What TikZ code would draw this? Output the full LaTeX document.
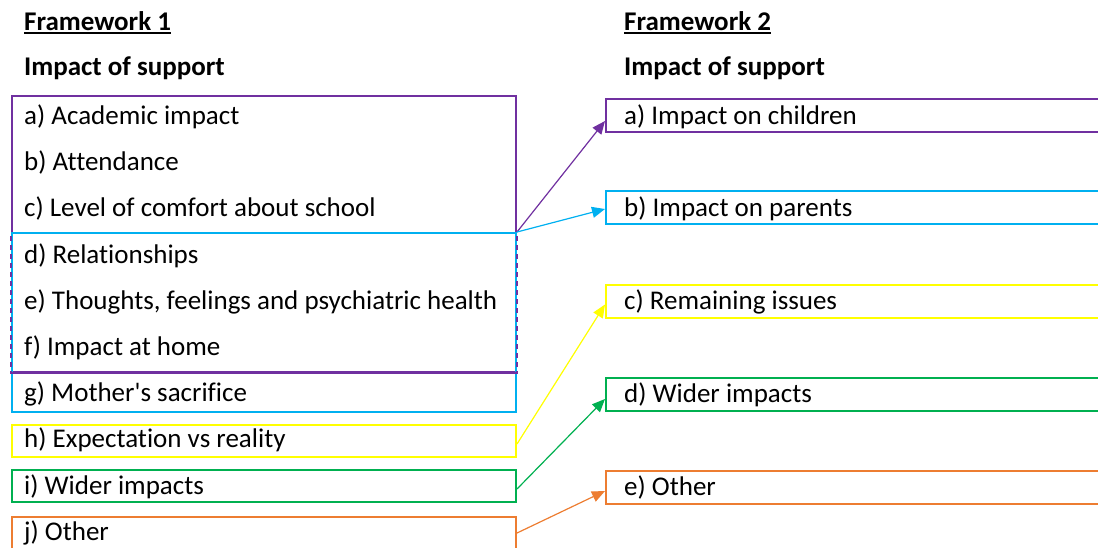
\documentclass[tikz,border=0pt]{standalone}
\usepackage{fontspec}
\setmainfont{Carlito}[Ligatures={NoCommon}]
\usetikzlibrary{arrows.meta}
\definecolor{cPur}{HTML}{7030A0}
\definecolor{cBlu}{HTML}{00B0F0}
\definecolor{cYel}{HTML}{FFFF00}
\definecolor{cGrn}{HTML}{00B050}
\definecolor{cOra}{HTML}{ED7D31}
\begin{document}
\begin{tikzpicture}[x=1pt,y=-1pt,
  every node/.style={font=\fontsize{27}{32}\selectfont},
  item/.style={inner sep=0pt, anchor=base west, text=black},
  head/.style={item, font=\fontsize{27}{32}\selectfont\bfseries},
  frame/.style={draw, line width=2pt, inner sep=0pt, anchor=north west, minimum width=504pt},
  rframe/.style={frame, minimum width=510pt, minimum height=33pt},
  link/.style={line width=1.2pt, -{Triangle[length=13pt,width=11pt]}},
  shared/.style={cPur, line width=2pt, dash pattern=on 5pt off 4pt, dash phase=5pt},
]
\useasboundingbox (0,0) rectangle (1098,547);
\clip (0,0) rectangle (1098,547);

% left column frames
\node[frame, draw=cPur, minimum height=276pt] (bpur) at (11,95) {};
\node[frame, draw=cBlu, minimum height=179pt] (bblu) at (11,232) {};
% shared stretch of the two frames
\draw[shared] (bblu.north west) -- (bblu.north west |- bpur.south);
\draw[shared] (bblu.north east) -- (bblu.north east |- bpur.south);
\draw[cPur, line width=2pt] ([xshift=-1pt]bpur.south west) -- ([xshift=1pt]bpur.south east);
\node[frame, draw=cYel, minimum height=32pt] (byel) at (11,424) {};
\node[frame, draw=cGrn, minimum height=32pt] (bgrn) at (11,469) {};
\node[frame, draw=cOra, minimum height=45pt] (bora) at (11,516) {};

% right column frames
\node[rframe, draw=cPur] (ra) at (605,98) {};
\node[rframe, draw=cBlu] (rb) at (605,190) {};
\node[rframe, draw=cYel] (rc) at (605,284) {};
\node[rframe, draw=cGrn] (rd) at (605,377) {};
\node[rframe, draw=cOra] (re) at (605,470) {};

% headings
\node[head] (f1) at (24,30) {Framework 1};
\node[head] (s1) at (24,75) {Impact of support};
\node[head] (f2) at (624,30) {Framework 2};
\node[head] (s2) at (624,75) {Impact of support};
\draw[line width=1.8pt] ([yshift=-3pt]f1.base west) -- ([yshift=-3pt]f1.base east);
\draw[line width=1.8pt] ([yshift=-3pt]f2.base west) -- ([yshift=-3pt]f2.base east);

% left items
\node[item] (ta) at (24,124) {a) Academic impact};
\node[item] (tb) at (24,170) {b) Attendance};
\node[item] (tc) at (24,216) {c) Level of comfort about school};
\node[item] (td) at (24,263) {d) Relationships};
\node[item] (te) at (24,309) {e) Thoughts, feelings and psychiatric health};
\node[item] (tf) at (24,355) {f) Impact at home};
\node[item] (tg) at (24,401) {g) Mother\textquotesingle s sacrifice};
\node[item] (th) at (24,447) {h) Expectation vs reality};
\node[item] (ti) at (24,494) {i) Wider impacts};
\node[item] (tj) at (24,540) {j) Other};

% right items
\node[item] (ua) at (624,124) {a) Impact on children};
\node[item] (ub) at (624,216) {b) Impact on parents};
\node[item] (uc) at (624,309) {c) Remaining issues};
\node[item] (ud) at (624,402) {d) Wider impacts};
\node[item] (ue) at (624,495) {e) Other};

% links
\draw[link, cPur] (bblu.north east) -- ([yshift=-5.5pt]ra.west);
\draw[link, cBlu] (bblu.north east) -- ([yshift=-1.5pt]rb.west);
\draw[link, cYel] ([yshift=-3pt]byel.east) -- ([yshift=-3pt]rc.west);
\draw[link, cGrn] ([yshift=-3pt]bgrn.east) -- ([yshift=-4.5pt]rd.west);
\draw[link, cOra] ([yshift=-17pt]bora.north east) -- ([yshift=-3.5pt]re.west);
\end{tikzpicture}
\end{document}
